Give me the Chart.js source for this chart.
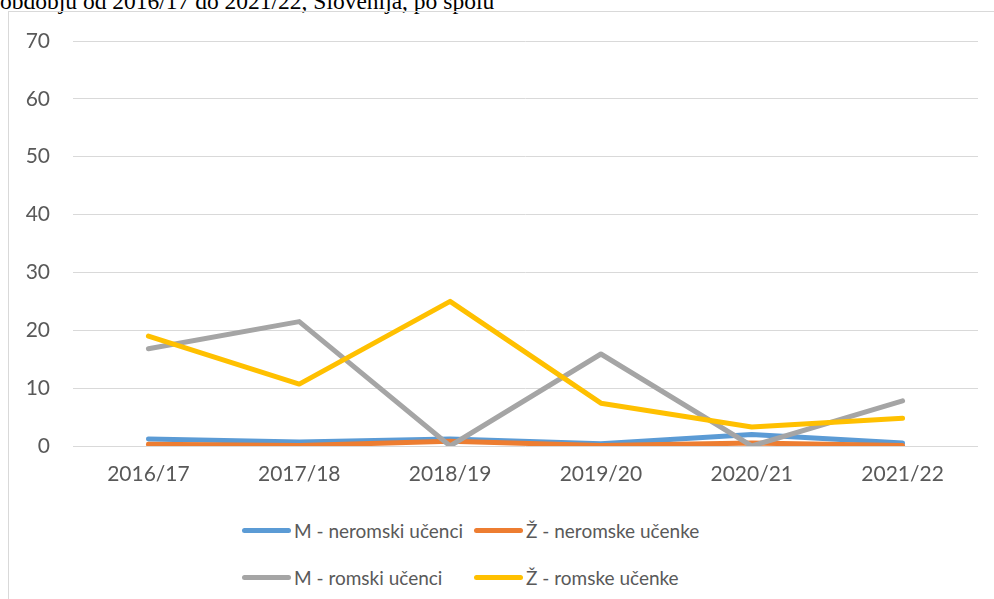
<!DOCTYPE html>
<html>
<head>
<meta charset="utf-8">
<script src="https://cdn.jsdelivr.net/npm/chart.js@4"></script>
<style>
  body { margin: 0; background: #fff; width: 994px; height: 599px; overflow: hidden; position: relative; }
  #title { position: absolute; left: 0; top: -10px; font-family: "Liberation Serif", serif; font-size: 23.5px; line-height: 1; color: #000; white-space: nowrap; }
  #box { position: absolute; left: 8px; top: 11px; width: 1000px; height: 600px; border: 1px solid #d9d9d9; }
  #wrap { position: absolute; left: 9px; top: 12px; width: 985px; height: 492px; }
  .leg { position: absolute; display: flex; align-items: center; font-family: Lato, sans-serif; font-size: 19px; color: #595959; white-space: nowrap; }
  .leg span.ln { display: inline-block; width: 49px; height: 5px; border-radius: 3px; margin-right: 3px; }
</style>
</head>
<body>
<div id="title">obdobju od 2016/17 do 2021/22, Slovenija, po spolu</div>
<div id="box"></div>
<div id="wrap"><canvas id="chart"></canvas></div>
<div id="legend"></div>
<script>
const years = ["2016/17", "2017/18", "2018/19", "2019/20", "2020/21", "2021/22"];
const seriesNames = ["M - neromski učenci", "Ž - neromske učenke", "M - romski učenci", "Ž - romske učenke"];
const mNeromski = [1.2, 0.7, 1.2, 0.4, 2.0, 0.5];
const zNeromske = [0.3, 0.1, 0.8, 0.1, 0.5, 0.1];
const mRomski = [16.8, 21.5, 0, 15.9, 0, 7.8];
const zRomske = [19.0, 10.7, 25.0, 7.4, 3.3, 4.8];
const yTicks = [0, 10, 20, 30, 40, 50, 60, 70];
const colors = ["#5b9bd5", "#ed7d31", "#a5a5a5", "#ffc000"];

const values = [mNeromski, zNeromske, mRomski, zRomske];

const datasets = values.map((v, i) => ({
  label: seriesNames[i],
  data: v,
  borderColor: colors[i],
  backgroundColor: colors[i],
  borderWidth: 5,
  borderCapStyle: "round",
  borderJoinStyle: "round",
  pointRadius: 0,
  tension: 0,
  order: 4 - i
}));

const ctx = document.getElementById("chart").getContext("2d");
const chart = new Chart(ctx, {
  type: "line",
  data: { labels: years, datasets },
  options: {
    responsive: true,
    maintainAspectRatio: false,
    animation: false,
    layout: { padding: { top: 29, right: 16, left: 0, bottom: 0 } },
    plugins: {
      legend: { display: false },
      tooltip: { enabled: false }
    },
    scales: {
      x: {
        offset: true,
        afterFit: s => { s.height = 58; s.paddingLeft = 0; s.paddingRight = 0; },
        grid: { display: false, drawTicks: false },
        border: { display: false },
        ticks: { color: "#595959", font: { family: "Lato", size: 21 }, padding: 16, maxRotation: 0 }
      },
      y: {
        min: 0,
        max: 70,
        afterBuildTicks: s => { s.ticks = yTicks.map(v => ({ value: v })); },
        afterFit: s => { s.width = 64; s.paddingTop = 0; s.paddingBottom = 0; },
        grid: { color: "#d9d9d9", lineWidth: 1, drawTicks: false },
        border: { display: false },
        ticks: { color: "#595959", font: { family: "Lato", size: 21 }, padding: 23 }
      }
    }
  }
});

// legend laid out as a 2x2 grid like the original
const legendPos = [[242, 530], [474, 530], [242, 577], [474, 577]];
const legendEl = document.getElementById("legend");
chart.data.datasets.forEach((ds, i) => {
  const item = document.createElement("div");
  item.className = "leg";
  item.style.left = legendPos[i][0] + "px";
  item.style.top = (legendPos[i][1] - 13) + "px";
  item.style.height = "26px";
  item.innerHTML = `<span class="ln" style="background:${ds.borderColor}"></span>${ds.label}`;
  legendEl.appendChild(item);
});
</script>
</body>
</html>
